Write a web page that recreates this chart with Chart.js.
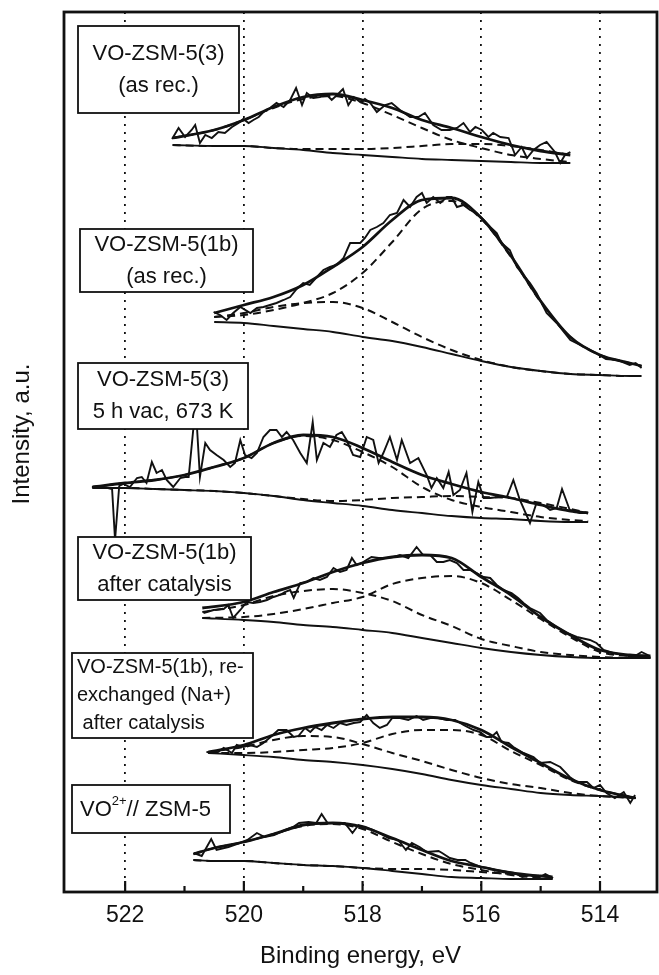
<!DOCTYPE html>
<html lang="en">
<head>
<meta charset="UTF-8">
<title>V 2p3/2 XPS spectra</title>
<style>
  html, body { margin: 0; padding: 0; background: #fff; }
  #wrap { width: 659px; height: 975px; }
</style>
</head>
<body>
<div id="wrap"><canvas id="xps" width="659" height="975"></canvas></div>
<script src="https://cdn.jsdelivr.net/npm/chart.js"></script>
<script>
// binding energy ticks (eV), even ones labelled
const tickValues = [514, 515, 516, 517, 518, 519, 520, 521, 522];

// 1: VO-ZSM-5(3) as rec.
const s1Raw = [[521.21,753],[521.10,764],[520.99,755],[520.88,762],[520.82,767],[520.74,749],[520.65,757],[520.54,754],[520.43,760],[520.32,759],[520.20,765],[520.09,769],[520.01,773],[519.92,769],[519.84,772],[519.75,775],[519.67,780],[519.56,784],[519.45,789],[519.33,785],[519.22,792],[519.12,804],[519.02,787],[518.94,799],[518.83,794],[518.72,795],[518.60,797],[518.52,792],[518.43,797],[518.33,803],[518.24,787],[518.15,795],[518.04,790],[517.96,793],[517.87,789],[517.76,780],[517.62,787],[517.51,789],[517.37,782],[517.20,775],[517.06,775],[516.95,779],[516.81,767],[516.67,762],[516.53,762],[516.41,764],[516.30,769],[516.19,760],[516.10,765],[515.99,762],[515.88,755],[515.80,759],[515.68,755],[515.54,754],[515.43,737],[515.32,745],[515.23,734],[515.12,742],[515.01,747],[514.90,750],[514.76,740],[514.67,729],[514.59,737],[514.50,740]];
const s1Grid = [521.2, 520.5, 520, 519.5, 519, 518.5, 518, 517.5, 517, 516.5, 516, 515.5, 515, 514.5];
const s1Env  = [754, 762, 772, 785, 795, 798, 792, 784, 772, 764, 755, 747, 741, 737];
const s1PkA  = [754, 762, 772, 784, 793, 796, 789, 777, 764, 752, 744, 737, 733, 730];
const s1PkB  = [747, 746, 746, 744, 743, 743, 743, 744, 746, 748, 748, 746, 742, 737];
const s1Bg   = [747, 746, 746, 744, 742, 739, 737, 735, 733, 732, 731, 730, 729, 729];

// 2: VO-ZSM-5(1b) as rec.
const s2Raw = [[520.51,580],[520.40,577],[520.29,572],[520.18,579],[520.06,585],[519.89,579],[519.78,584],[519.67,585],[519.56,587],[519.45,589],[519.33,592],[519.22,595],[519.11,603],[519.00,609],[518.89,607],[518.77,615],[518.66,622],[518.55,625],[518.44,627],[518.32,634],[518.21,649],[518.04,649],[517.96,654],[517.87,662],[517.76,665],[517.65,669],[517.54,677],[517.42,679],[517.31,692],[517.20,685],[517.09,695],[517.00,699],[516.92,689],[516.81,695],[516.69,689],[516.58,695],[516.50,695],[516.41,685],[516.30,687],[516.19,682],[516.08,679],[515.96,672],[515.85,665],[515.74,659],[515.66,649],[515.52,642],[515.40,625],[515.32,619],[515.18,609],[515.07,599],[514.90,579],[514.73,569],[514.50,552],[514.30,546],[514.10,540],[513.90,533],[513.70,532],[513.50,527],[513.40,529],[513.30,524]];
const s2Grid = [520.5, 520, 519.5, 519, 518.5, 518, 517.5, 517, 516.5, 516, 515.5, 515, 514.5, 514, 513.5, 513.3];
const s2Env  = [579, 587, 595, 607, 625, 645, 672, 692, 694, 674, 636, 591, 555, 537, 529, 526];
const s2PkA  = [575, 577, 582, 589, 599, 619, 650, 683, 691, 673, 635, 590, 555, 537, 529, 526];
const s2PkB  = [575, 579, 585, 589, 590, 584, 570, 555, 542, 532, 525, 521, 518, 517, 516, 516];
const s2Bg   = [570, 569, 566, 563, 560, 555, 551, 545, 538, 531, 525, 521, 518, 517, 516, 516];

// 3: VO-ZSM-5(3) 5 h vac, 673 K
const s3Raw = [[522.56,405],[522.36,405],[522.22,403],[522.17,352],[522.10,406],[522.03,408],[521.92,405],[521.80,414],[521.72,415],[521.64,409],[521.55,430],[521.47,419],[521.38,422],[521.30,412],[521.19,405],[521.07,414],[520.99,415],[520.93,415],[520.85,464],[520.79,465],[520.74,415],[520.65,449],[520.57,442],[520.46,437],[520.34,432],[520.23,425],[520.15,429],[520.06,452],[519.98,437],[519.87,434],[519.78,439],[519.67,455],[519.56,462],[519.45,462],[519.36,455],[519.28,460],[519.17,452],[519.05,439],[518.94,429],[518.84,470],[518.77,432],[518.66,449],[518.55,445],[518.44,457],[518.35,460],[518.27,452],[518.16,437],[518.04,435],[517.93,455],[517.82,452],[517.73,429],[517.65,439],[517.54,455],[517.42,432],[517.34,452],[517.20,429],[517.06,434],[516.92,417],[516.84,404],[516.75,414],[516.64,404],[516.55,420],[516.47,397],[516.36,402],[516.25,419],[516.15,380],[516.05,410],[515.96,394],[515.85,394],[515.71,395],[515.57,395],[515.46,412],[515.35,392],[515.18,369],[515.07,389],[514.95,387],[514.84,382],[514.73,384],[514.64,403],[514.51,382],[514.34,379],[514.22,379]];
const s3Grid = [522.55, 522, 521.5, 521, 520.5, 520, 519.5, 519, 518.5, 518, 517.5, 517, 516.5, 516, 515.5, 515, 514.5, 514.2];
const s3Env  = [405, 409, 412, 417, 425, 434, 449, 457, 455, 444, 430, 417, 408, 400, 394, 387, 381, 379];
const s3PkA  = [405, 409, 412, 417, 425, 434, 449, 456, 452, 440, 425, 405, 392, 385, 380, 375, 372, 371];
const s3PkB  = [404, 404, 403, 402, 401, 399, 396, 393, 391, 392, 394, 395, 396, 395, 394, 389, 383, 379];
const s3Bg   = [404, 404, 403, 402, 401, 399, 396, 392, 389, 386, 382, 379, 376, 374, 373, 371, 370, 370];

// 4: VO-ZSM-5(1b) after catalysis
const s4Raw = [[520.68,279],[520.51,282],[520.34,283],[520.26,287],[520.18,274],[520.06,282],[519.95,290],[519.84,289],[519.73,290],[519.61,292],[519.50,295],[519.39,297],[519.31,300],[519.22,302],[519.16,294],[519.05,309],[518.94,310],[518.83,314],[518.72,312],[518.60,315],[518.49,324],[518.38,320],[518.27,322],[518.18,334],[518.10,327],[517.99,330],[517.85,335],[517.73,334],[517.59,334],[517.48,335],[517.37,337],[517.23,334],[517.09,345],[516.98,337],[516.86,337],[516.75,330],[516.64,330],[516.53,332],[516.41,329],[516.30,322],[516.19,322],[516.08,319],[515.96,315],[515.85,314],[515.74,307],[515.63,302],[515.49,299],[515.38,294],[515.29,289],[515.18,284],[515.01,279],[514.90,272],[514.73,265],[514.56,259],[514.39,255],[514.17,252],[514.06,249],[513.94,242],[513.78,239],[513.60,237],[513.44,235],[513.30,240],[513.16,236]];
const s4Grid = [520.7, 520, 519.5, 519, 518.5, 518, 517.5, 517, 516.5, 516, 515.5, 515, 514.5, 514, 513.5, 513.15];
const s4Env  = [284, 290, 300, 309, 320, 329, 335, 337, 334, 315, 297, 275, 257, 242, 237, 236];
const s4PkA  = [274, 275, 278, 283, 289, 295, 308, 314, 316, 309, 292, 273, 255, 240, 236, 235];
const s4PkB  = [280, 287, 296, 301, 303, 299, 291, 277, 266, 253, 246, 240, 237, 235, 234, 234];
const s4Bg   = [274, 272, 270, 267, 265, 262, 259, 254, 249, 244, 240, 237, 235, 234, 234, 234];

// 5: VO-ZSM-5(1b), re-exchanged (Na+) after catalysis
const s5Raw = [[520.63,140],[520.46,139],[520.34,144],[520.20,139],[520.12,147],[520.01,145],[519.90,147],[519.78,145],[519.67,149],[519.53,156],[519.42,162],[519.28,162],[519.16,155],[519.08,156],[518.97,164],[518.88,160],[518.80,165],[518.69,162],[518.60,167],[518.49,164],[518.38,169],[518.27,167],[518.15,169],[518.04,170],[517.93,177],[517.82,169],[517.71,164],[517.59,167],[517.50,174],[517.37,174],[517.23,172],[517.09,176],[516.98,172],[516.86,174],[516.72,174],[516.58,172],[516.44,172],[516.30,167],[516.13,162],[516.02,160],[515.91,155],[515.83,155],[515.74,160],[515.66,150],[515.54,149],[515.46,145],[515.29,139],[515.12,135],[515.01,129],[514.84,130],[514.67,125],[514.51,115],[514.39,110],[514.22,110],[514.11,104],[514.00,107],[513.89,99],[513.75,94],[513.60,100],[513.49,89],[513.41,97]];
const s5Grid = [520.6, 520, 519.5, 519, 518.5, 518, 517.5, 517, 516.5, 516, 515.5, 515, 514.5, 514, 513.4];
const s5Env  = [140, 147, 157, 164, 169, 173, 175, 175, 172, 162, 145, 129, 113, 102, 94];
const s5PkA  = [139, 139, 140, 142, 144, 149, 158, 162, 162, 157, 141, 127, 112, 102, 94];
const s5PkB  = [140, 145, 152, 156, 155, 148, 139, 131, 122, 114, 108, 104, 99, 96, 94];
const s5Bg   = [139, 137, 135, 132, 130, 127, 123, 118, 112, 107, 103, 99, 97, 96, 94];

// 6: VO2+ // ZSM-5
const s6Raw = [[520.84,39],[520.71,36],[520.55,53],[520.46,42],[520.26,45],[520.07,49],[519.94,52],[519.78,59],[519.65,55],[519.49,57],[519.30,62],[519.17,65],[519.07,69],[518.91,70],[518.78,69],[518.69,78],[518.59,69],[518.46,69],[518.30,69],[518.17,59],[518.07,67],[517.95,65],[517.82,62],[517.66,57],[517.56,54],[517.40,52],[517.27,42],[517.17,49],[517.04,45],[516.92,40],[516.72,41],[516.66,39],[516.53,34],[516.40,32],[516.27,32],[516.18,29],[516.01,25],[515.89,24],[515.76,22],[515.63,21],[515.44,19],[515.31,15],[515.18,17],[515.05,14],[514.92,18],[514.79,14]];
const s6Grid = [520.85, 520.5, 520, 519.5, 519, 518.5, 518, 517.5, 517, 516.5, 516, 515.5, 515, 514.8];
const s6Env  = [38, 44, 50, 58, 67, 69, 65, 54, 42, 31, 25, 19, 16, 15];
const s6PkA  = [38, 44, 50, 58, 66, 68, 63, 50, 38, 28, 22, 17, 14, 13];
const s6PkB  = [32, 31, 31, 29, 27, 26, 24, 23, 23, 22, 20, 18, 16, 15];
const s6Bg   = [32, 31, 31, 29, 27, 26, 24, 21, 18, 15, 14, 13, 13, 13];

const spectra = [
  [s1Raw, s1Grid, s1Env, s1PkA, s1PkB, s1Bg],
  [s2Raw, s2Grid, s2Env, s2PkA, s2PkB, s2Bg],
  [s3Raw, s3Grid, s3Env, s3PkA, s3PkB, s3Bg],
  [s4Raw, s4Grid, s4Env, s4PkA, s4PkB, s4Bg],
  [s5Raw, s5Grid, s5Env, s5PkA, s5PkB, s5Bg],
  [s6Raw, s6Grid, s6Env, s6PkA, s6PkB, s6Bg]
];

const INK = '#111';
const FONT = '"Liberation Sans", Arial, Helvetica, sans-serif';

function curve(grid, vals, width, dash) {
  return {
    data: grid.map((e, i) => ({ x: e, y: vals[i] })),
    borderColor: INK, borderWidth: width, borderDash: dash,
    pointRadius: 0, fill: false, cubicInterpolationMode: 'monotone'
  };
}

let datasets = [];
spectra.forEach(([raw, grid, env, a, b, bg]) => {
  datasets.push(curve(grid, bg, 1.8, []));
  datasets.push(curve(grid, a, 2, [8, 5]));
  datasets.push(curve(grid, b, 2, [8, 5]));
  datasets.push(curve(grid, env, 2.8, []));
  datasets.push({
    data: raw.map(p => ({ x: p[0], y: p[1] })),
    borderColor: INK, borderWidth: 1.9, pointRadius: 0, tension: 0, fill: false
  });
});

// label boxes: [left, top, width, height, align, lines]
const boxes = [
  [78, 26, 161, 87, 'center', ['VO-ZSM-5(3)', '(as rec.)']],
  [80, 229, 173, 63, 'center', ['VO-ZSM-5(1b)', '(as rec.)']],
  [78, 363, 170, 66, 'center', ['VO-ZSM-5(3)', '5 h vac, 673 K']],
  [78, 537, 173, 63, 'center', ['VO-ZSM-5(1b)', 'after catalysis']],
  [72, 653, 181, 85, 'left', ['VO-ZSM-5(1b), re-', 'exchanged (Na+)', ' after catalysis']]
];

const decor = {
  id: 'decor',
  afterDraw(chart) {
    const ctx = chart.ctx, ca = chart.chartArea, xs = chart.scales.x;
    ctx.save();
    // inner tick marks
    ctx.strokeStyle = INK; ctx.lineWidth = 2.2;
    tickValues.forEach(v => {
      const px = xs.getPixelForValue(v);
      const len = v % 2 === 0 ? 11 : 6;
      ctx.beginPath(); ctx.moveTo(px, ca.bottom); ctx.lineTo(px, ca.bottom - len); ctx.stroke();
    });
    // frame
    ctx.lineWidth = 2.8;
    ctx.strokeRect(ca.left, ca.top, ca.right - ca.left, ca.bottom - ca.top);
    // y axis title
    ctx.save();
    ctx.translate(22, 434); ctx.rotate(-Math.PI / 2);
    ctx.font = '24px ' + FONT; ctx.fillStyle = INK;
    ctx.textAlign = 'center'; ctx.textBaseline = 'middle';
    ctx.fillText('Intensity, a.u.', 0, 0);
    ctx.restore();
    // labels
    ctx.fillStyle = INK; ctx.lineWidth = 1.8; ctx.textBaseline = 'middle';
    boxes.forEach(([l, t, w, h, align, lines]) => {
      ctx.fillStyle = '#fff'; ctx.fillRect(l, t, w, h);
      ctx.strokeRect(l, t, w, h);
      ctx.fillStyle = INK;
      const fs = lines.length > 2 ? 20 : 22;
      ctx.font = fs + 'px ' + FONT;
      const step = lines.length > 2 ? 28 : 32;
      const y0 = t + h / 2 - step * (lines.length - 1) / 2;
      lines.forEach((s, i) => {
        if (align === 'center') { ctx.textAlign = 'center'; ctx.fillText(s, l + w / 2, y0 + i * step); }
        else { ctx.textAlign = 'left'; ctx.fillText(s, l + 5, y0 + i * step); }
      });
    });
    // VO2+ // ZSM-5 box
    const b = [72, 785, 158, 48];
    ctx.fillStyle = '#fff'; ctx.fillRect(b[0], b[1], b[2], b[3]);
    ctx.strokeRect(b[0], b[1], b[2], b[3]);
    ctx.fillStyle = INK; ctx.textAlign = 'left';
    let x = b[0] + 8; const y = b[1] + b[3] / 2 + 1;
    ctx.font = '22px ' + FONT; ctx.fillText('VO', x, y); x += ctx.measureText('VO').width;
    ctx.font = '13px ' + FONT; ctx.fillText('2+', x, y - 9); x += ctx.measureText('2+').width;
    ctx.font = '22px ' + FONT; ctx.fillText('// ZSM-5', x, y);
    ctx.restore();
  }
};

new Chart(document.getElementById('xps'), {
  type: 'line',
  data: { datasets },
  options: {
    responsive: false,
    animation: false,
    events: [],
    layout: { padding: { top: 12, right: 2, left: 0, bottom: 0 } },
    plugins: { legend: { display: false }, tooltip: { enabled: false } },
    scales: {
      x: {
        type: 'linear', reverse: true, min: 513.04, max: 523.03,
        afterBuildTicks: axis => { axis.ticks = tickValues.map(v => ({ value: v })); },
        afterFit: axis => { axis.height = 83; },
        ticks: {
          color: INK, padding: 10, autoSkip: false, maxRotation: 0,
          font: { family: FONT, size: 23 },
          callback: v => (v % 2 === 0 ? String(v) : '')
        },
        grid: {
          drawTicks: false, lineWidth: 1.8,
          color: c => (c.tick && c.tick.value % 2 === 0 ? INK : 'rgba(0,0,0,0)')
        },
        border: { display: false, dash: [2, 6] },
        title: {
          display: true, text: 'Binding energy, eV', color: INK,
          font: { family: FONT, size: 24 }, padding: { top: 0, bottom: 4 }
        }
      },
      y: {
        type: 'linear', min: 0, max: 880,
        afterFit: axis => { axis.width = 64; },
        ticks: { display: false },
        grid: { display: false },
        border: { display: false },
        title: { display: false }
      }
    }
  },
  plugins: [decor]
});
</script>
</body>
</html>
